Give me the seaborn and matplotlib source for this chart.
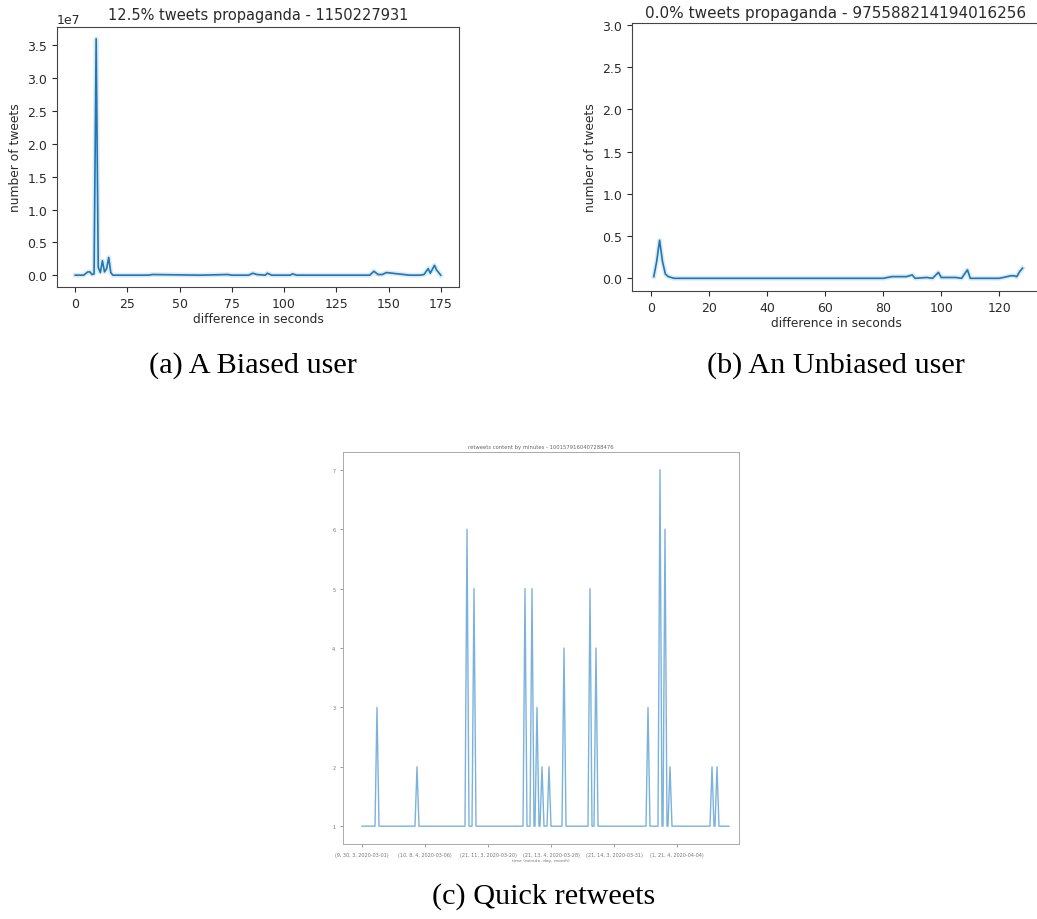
import matplotlib
matplotlib.use("Agg")
import matplotlib.pyplot as plt
import seaborn as sns

# (a) biased user: seconds between retweets vs number of tweets
a_seconds = [0, 4, 6, 7, 8, 9, 10, 11, 12, 13, 14, 15, 16, 17, 18, 20, 35, 37, 60, 73, 75, 83,
             85, 87, 91, 92, 94, 103, 104, 106, 120, 141, 143, 145, 147, 149, 160, 165, 167, 169,
             170, 172, 173, 175]
a_tweets = [0.0, 0.0, 0.05, 0.05, 0.01, 0.02, 3.6, 0.12, 0.04, 0.22, 0.05, 0.1, 0.27, 0.04, 0.0,
            0.0, 0.0, 0.01, 0.0, 0.01, 0.0, 0.0, 0.03, 0.01, 0.0, 0.03, 0.0, 0.0, 0.02, 0.0, 0.0,
            0.0, 0.06, 0.01, 0.01, 0.04, 0.0, 0.0, 0.01, 0.1, 0.03, 0.15, 0.08, 0.0]
a_tweets = [v * 1e7 for v in a_tweets]

# (b) unbiased user
b_seconds = [1, 2, 3, 4, 5, 6, 8, 10, 20, 40, 60, 80, 83, 86, 88, 90, 91, 95, 97, 99, 100, 105,
             107, 109, 110, 115, 120, 124, 125, 126, 127, 128]
b_tweets = [0.02, 0.2, 0.45, 0.2, 0.05, 0.02, 0.0, 0.0, 0.0, 0.0, 0.0, 0.0, 0.02, 0.02, 0.02,
            0.04, 0.0, 0.01, 0.0, 0.07, 0.01, 0.01, 0.0, 0.1, 0.0, 0.0, 0.0, 0.03, 0.03, 0.02,
            0.08, 0.12]

# (c) quick retweets: spikes over a baseline of one retweet per minute
c_total_minutes = 367
c_baseline = 1
c_spike_minutes = [15, 55, 105, 112, 163, 170, 175, 180, 187, 202, 228, 234, 286, 298, 303, 308, 350, 355]
c_spike_counts = [3, 2, 6, 5, 5, 5, 3, 2, 2, 4, 5, 4, 3, 7, 6, 2, 2, 2]
c_tick_minutes = [0, 63, 126, 189, 252, 315]
c_tick_labels = ["(9, 30, 3, 2020-03-01)", "(10, 8, 4, 2020-03-06)", "(21, 11, 3, 2020-03-20)",
                 "(21, 13, 4, 2020-03-28)", "(21, 14, 3, 2020-03-31)", "(1, 21, 4, 2020-04-04)"]

c_x = [0]
c_y = [c_baseline]
for m, v in zip(c_spike_minutes, c_spike_counts):
    c_x += [m - 2, m, m + 2]
    c_y += [c_baseline, v, c_baseline]
c_x.append(c_total_minutes)
c_y.append(c_baseline)

W, H = 1037, 920
fig = plt.figure(figsize=(W / 100, H / 100), dpi=100)
txt = "#2a2a2a"
blue = "#1f77b4"


def box(l, r, t, b):
    return [l / W, 1 - b / H, (r - l) / W, (b - t) / H]


def style_axes(ax, size):
    ax.tick_params(labelsize=size, colors=txt)
    for s in ax.spines.values():
        s.set_color("#444444")


ax1 = fig.add_axes(box(57, 459, 28, 288))
sns.lineplot(x=a_seconds, y=a_tweets, ax=ax1, color=blue, lw=3.5, alpha=0.15)
sns.lineplot(x=a_seconds, y=a_tweets, ax=ax1, color=blue, lw=1.2)
ax1.set_xticks([0, 25, 50, 75, 100, 125, 150, 175])
ax1.set_yticks([v * 1e7 for v in [0, 0.5, 1.0, 1.5, 2.0, 2.5, 3.0, 3.5]])
ax1.set_title("12.5% tweets propaganda - 1150227931", fontsize=10.5, color=txt, pad=6)
ax1.set_xlabel("difference in seconds", fontsize=8.8, color=txt, labelpad=2)
ax1.set_ylabel("number of tweets", fontsize=8.8, color=txt)
style_axes(ax1, 9)
ax1.yaxis.get_offset_text().set_fontsize(9)

ax2 = fig.add_axes(box(632, 1040, 24, 292))
sns.lineplot(x=b_seconds, y=b_tweets, ax=ax2, color=blue, lw=3.5, alpha=0.15)
sns.lineplot(x=b_seconds, y=b_tweets, ax=ax2, color=blue, lw=1.2)
ax2.set_ylim(-0.15, 3.02)
ax2.set_xlim(-6.5, 134)
ax2.set_xticks([0, 20, 40, 60, 80, 100, 120])
ax2.set_yticks([0, 0.5, 1.0, 1.5, 2.0, 2.5, 3.0])
ax2.set_title("0.0% tweets propaganda - 975588214194016256", fontsize=11, color=txt, pad=4)
ax2.set_xlabel("difference in seconds", fontsize=8.8, color=txt, labelpad=2)
ax2.set_ylabel("number of tweets", fontsize=8.8, color=txt)
style_axes(ax2, 9)

ax3 = fig.add_axes(box(343, 739, 453, 845))
sns.lineplot(x=c_x, y=c_y, ax=ax3, color="#5a9fd4", lw=1.0, alpha=0.8)
ax3.set_xlim(-19, 377)
ax3.set_ylim(0.7, 7.3)
ax3.set_yticks([1, 2, 3, 4, 5, 6, 7])
ax3.set_xticks(c_tick_minutes)
ax3.set_xticklabels(c_tick_labels)
ax3.tick_params(labelsize=3.5, colors="#777777", length=2, width=0.5)
for s in ax3.spines.values():
    s.set_color("#aaaaaa")
    s.set_linewidth(0.7)
ax3.set_title("retweets content by minutes - 1001579160407288476", fontsize=3.8, color="#666666", pad=3)
ax3.set_xlabel("time (minute, day, month)", fontsize=3.2, color="#777777", labelpad=1)

cap = dict(family="Liberation Serif", fontsize=21.8, color="black", ha="center", va="center")
fig.text(253 / W, 1 - 366 / H, "(a) A Biased user", **cap)
fig.text(836 / W, 1 - 366 / H, "(b) An Unbiased user", **cap)
fig.text(544 / W, 1 - 897 / H, "(c) Quick retweets", **cap)

fig.savefig("out.png", dpi=100)
